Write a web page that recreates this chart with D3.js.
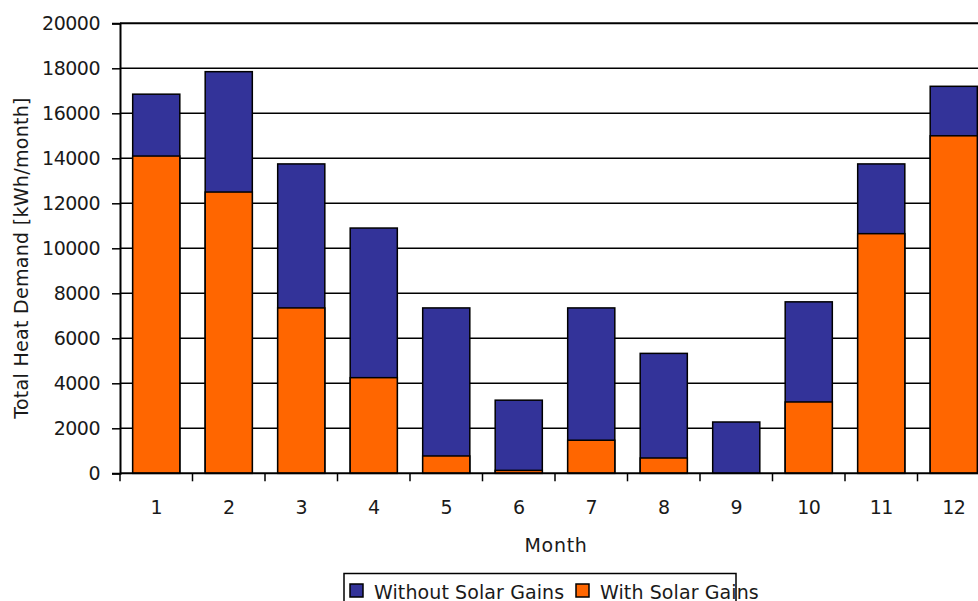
<!DOCTYPE html>
<html>
<head>
<meta charset="utf-8">
<script src="https://cdn.jsdelivr.net/npm/d3@7"></script>
<style>
  body { margin: 0; background: #fff; overflow: hidden; }
  svg text { font-family: "DejaVu Sans", sans-serif; fill: #1a1a1a; }
</style>
</head>
<body>
<div id="chart"></div>
<script>
// months on the x axis
const months = ["1", "2", "3", "4", "5", "6", "7", "8", "9", "10", "11", "12"];
// heat demand without solar gains (kWh/month)
const withoutSolar = [16850, 17850, 13750, 10900, 7350, 3250, 7350, 5330, 2280, 7620, 13750, 17200];
// heat demand with solar gains (kWh/month)
const withSolar = [14100, 12500, 7350, 4250, 770, 130, 1470, 680, 0, 3170, 10650, 15000];
const yTicks = [0, 2000, 4000, 6000, 8000, 10000, 12000, 14000, 16000, 18000, 20000];
const seriesNames = ["Without Solar Gains", "With Solar Gains"];
const colors = ["#333399", "#FF6600"];

const width = 978, height = 601;
const plotLeft = 120, plotTop = 23.3, plotBottom = 473.3;
const plotRight = plotLeft + 12 * 72.5;

const svg = d3.select("#chart").append("svg")
    .attr("width", width)
    .attr("height", height);

const x = d3.scaleBand()
    .domain(months)
    .range([plotLeft, plotRight])
    .paddingInner(0.35)
    .paddingOuter(0.175);

const y = d3.scaleLinear()
    .domain([0, 20000])
    .range([plotBottom, plotTop]);

// gridlines
svg.append("g")
    .selectAll("line")
    .data(yTicks.slice(1))
    .enter()
    .append("line")
    .attr("x1", plotLeft)
    .attr("x2", plotRight)
    .attr("y1", d => y(d))
    .attr("y2", d => y(d))
    .attr("stroke", "#000")
    .attr("stroke-width", d => d === 20000 ? 2 : 1.5);

// bars: both series overlap, orange in front of blue
[withoutSolar, withSolar].forEach((vals, s) => {
    svg.append("g")
        .selectAll("rect")
        .data(vals.map((v, i) => ({ m: months[i], v: v })).filter(d => d.v > 0))
        .enter()
        .append("rect")
        .attr("x", d => x(d.m))
        .attr("y", d => y(d.v))
        .attr("width", x.bandwidth())
        .attr("height", d => y(0) - y(d.v))
        .attr("fill", colors[s])
        .attr("stroke", "#000")
        .attr("stroke-width", 1.5);
});

// y axis
const yAxis = svg.append("g")
    .attr("transform", `translate(${plotLeft},0)`)
    .call(d3.axisLeft(y).tickValues(yTicks).tickSize(8).tickPadding(12).tickFormat(d3.format("d")));
yAxis.selectAll("line").attr("stroke", "#000").attr("stroke-width", 1.5);
yAxis.select(".domain").attr("stroke", "#000").attr("stroke-width", 2);
yAxis.selectAll("text")
    .style("font-size", "19px")
    .style("letter-spacing", "-0.5px")
    .attr("fill", "#1a1a1a");

// x axis: ticks sit between the months
const xAxis = svg.append("g")
    .attr("transform", `translate(0,${plotBottom})`);
xAxis.append("line")
    .attr("x1", plotLeft).attr("x2", plotRight)
    .attr("stroke", "#000").attr("stroke-width", 2);
xAxis.selectAll(".tick")
    .data(d3.range(13))
    .enter()
    .append("line")
    .attr("class", "tick")
    .attr("x1", i => plotLeft + i * x.step())
    .attr("x2", i => plotLeft + i * x.step())
    .attr("y1", 0).attr("y2", 8)
    .attr("stroke", "#000").attr("stroke-width", 1.5);
xAxis.selectAll(".lbl")
    .data(months)
    .enter()
    .append("text")
    .attr("class", "lbl")
    .attr("x", d => x(d) + x.bandwidth() / 2)
    .attr("y", 41)
    .attr("text-anchor", "middle")
    .style("font-size", "19px")
    .style("letter-spacing", "-0.5px")
    .text(d => d);

// axis titles
svg.append("text")
    .attr("x", 556)
    .attr("y", 552)
    .attr("text-anchor", "middle")
    .style("font-size", "19px")
    .style("letter-spacing", "0.7px")
    .text("Month");

svg.append("text")
    .attr("transform", "translate(28,258) rotate(-90)")
    .attr("text-anchor", "middle")
    .style("font-size", "19px")
    .style("letter-spacing", "0.3px")
    .text("Total Heat Demand [kWh/month]");

// legend
const legend = svg.append("g");
legend.append("rect")
    .attr("x", 344).attr("y", 573.5)
    .attr("width", 392).attr("height", 40)
    .attr("fill", "#fff")
    .attr("stroke", "#000").attr("stroke-width", 1.5);
const legendX = [350, 576];
seriesNames.forEach((name, i) => {
    legend.append("rect")
        .attr("x", legendX[i]).attr("y", 584)
        .attr("width", 13).attr("height", 13)
        .attr("fill", colors[i])
        .attr("stroke", "#000").attr("stroke-width", 1.5);
    legend.append("text")
        .attr("x", legendX[i] + 24).attr("y", 599)
        .style("font-size", "19px")
        .style("letter-spacing", "0.1px")
        .text(name);
});
</script>
</body>
</html>
